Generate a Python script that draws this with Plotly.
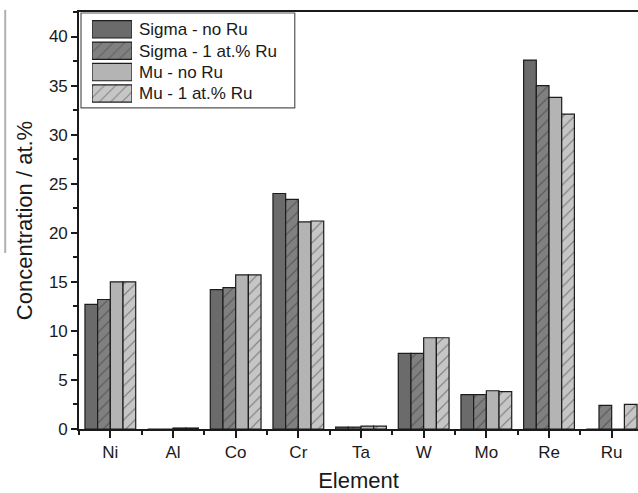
import plotly.graph_objects as go

elements = ["Ni", "Al", "Co", "Cr", "Ta", "W", "Mo", "Re", "Ru"]
series_names = ["Sigma - no Ru", "Sigma - 1 at.% Ru", "Mu - no Ru", "Mu - 1 at.% Ru"]
sigma_no_ru = [12.7, 0.0, 14.2, 24.0, 0.2, 7.7, 3.5, 37.6, 0.0]
sigma_1_ru = [13.2, 0.0, 14.4, 23.4, 0.2, 7.7, 3.5, 35.0, 2.4]
mu_no_ru = [15.0, 0.1, 15.7, 21.1, 0.3, 9.3, 3.9, 33.8, 0.0]
mu_1_ru = [15.0, 0.1, 15.7, 21.2, 0.3, 9.3, 3.8, 32.1, 2.5]
y_ticks = [0, 5, 10, 15, 20, 25, 30, 35, 40]

all_values = [sigma_no_ru, sigma_1_ru, mu_no_ru, mu_1_ru]
fills = ["#6b6b6b", "#808080", "#b4b4b4", "#c6c6c6"]
hatches = ["", "/", "", "/"]
edge = "#1c1c1c"
font_family = "Liberation Sans, Arial, sans-serif"

x_idx = list(range(len(elements)))

fig = go.Figure()
for name, vals, fc, hs in zip(series_names, all_values, fills, hatches):
    fig.add_trace(go.Bar(
        x=x_idx, y=vals, name=name,
        marker=dict(color=fc, line=dict(color=edge, width=1.2),
                    pattern=dict(shape=hs, fgcolor="#2a2a2a", bgcolor=fc,
                                 size=8, solidity=0.14)),
        showlegend=False,
    ))

# Legend drawn as a tiny bar subplot so the swatches are large like the original
fig.add_trace(go.Bar(
    x=[1, 1, 1, 1], y=series_names, orientation="h",
    xaxis="x2", yaxis="y2",
    marker=dict(color=fills, line=dict(color=edge, width=1.2),
                pattern=dict(shape=hatches, fgcolor="#2a2a2a", bgcolor=fills,
                             size=8, solidity=0.14)),
    showlegend=False, hoverinfo="skip",
))

fig.update_layout(
    width=638, height=493,
    margin=dict(l=79, r=0, t=12, b=64, autoexpand=False),
    paper_bgcolor="white", plot_bgcolor="white",
    barmode="group", bargap=0.19, bargroupgap=0,
    font=dict(family=font_family, color="#1a1a1a", size=17),
    xaxis=dict(
        range=[-0.5, 8.42], tickmode="array", tickvals=x_idx, ticktext=elements,
        ticks="outside", ticklen=7, tickwidth=1.5, tickcolor="#1a1a1a",
        showline=True, linecolor="#1a1a1a", linewidth=1.6, mirror=True,
        showgrid=False, zeroline=False, automargin=False,
        minor=dict(tick0=0.5, dtick=1, ticks="outside", ticklen=4,
                   tickwidth=1.5, tickcolor="#1a1a1a", showgrid=False),
        tickfont=dict(size=17),
        title=dict(text="Element", font=dict(size=22), standoff=15),
    ),
    yaxis=dict(
        range=[0, 42.5], tickmode="array", tickvals=y_ticks,
        ticks="outside", ticklen=6, tickwidth=1.5, tickcolor="#1a1a1a",
        showline=True, linecolor="#1a1a1a", linewidth=1.6, mirror=False,
        showgrid=False, zeroline=False, automargin=False,
        minor=dict(tick0=2.5, dtick=5, ticks="outside", ticklen=4,
                   tickwidth=1.5, tickcolor="#1a1a1a", showgrid=False),
        tickfont=dict(size=17),
        title=dict(text="Concentration / at.%", font=dict(size=22), standoff=10),
    ),
    xaxis2=dict(domain=[0.0233, 0.0948], range=[0, 1], anchor="y2",
                visible=False, fixedrange=True, automargin=False),
    yaxis2=dict(domain=[0.779, 0.984], anchor="x2", side="right",
                autorange="reversed", showline=False, showgrid=False,
                zeroline=False, ticks="", tickfont=dict(size=17),
                ticklabelstandoff=6, fixedrange=True, automargin=False),
    shapes=[
        dict(type="rect", xref="paper", yref="paper",
             x0=0.0036, x1=0.386, y0=0.770, y1=0.9976,
             line=dict(color="#555555", width=1.2)),
        dict(type="line", xref="paper", yref="paper",
             x0=-0.132, x1=-0.132, y0=0.422, y1=1.005,
             line=dict(color="#b0b0b0", width=2)),
    ],
)

fig.write_html("out.html", config={"displayModeBar": False},
               post_script="document.body.style.margin='0';document.body.style.overflow='hidden';")
